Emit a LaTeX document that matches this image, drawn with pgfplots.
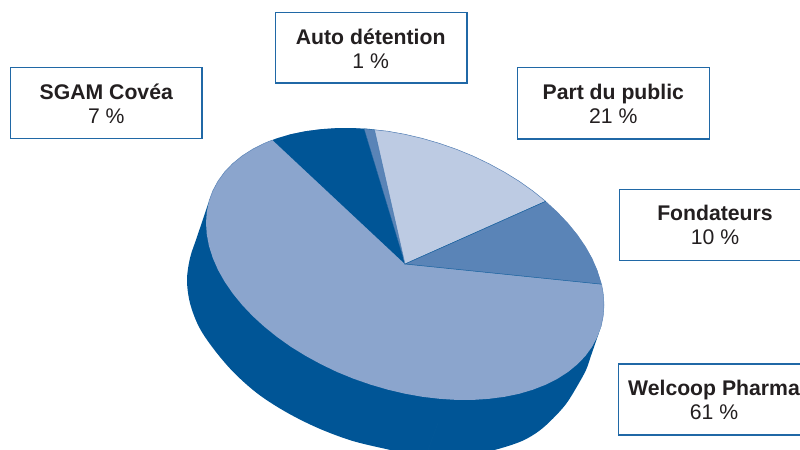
\documentclass[border=0pt]{standalone}
\usepackage{pgfplots}
\usepackage{fontspec}
\setmainfont{Liberation Sans}
\pgfplotsset{compat=1.18}
\definecolor{cdark}{HTML}{005596}
\definecolor{cseam}{HTML}{045896}
\definecolor{cmain}{HTML}{8BA5CD}
\definecolor{cmid}{HTML}{5A84B7}
\definecolor{clight}{HTML}{BDCBE3}
\definecolor{cbox}{HTML}{2068A6}
\definecolor{ctext}{HTML}{231F20}
\newcommand{\lab}[4]{%
  \node[anchor=base,inner sep=0pt,text=ctext,font=\fontsize{21.2bp}{24bp}\selectfont\bfseries] at (axis cs:#1,#2) {#3};%
  \node[anchor=base,inner sep=0pt,text=ctext,font=\fontsize{21.2bp}{24bp}\selectfont] at (axis cs:#1,#2+24) {#4};%
}
\begin{document}
\begin{tikzpicture}
\path[use as bounding box] (0,0) rectangle (800bp,450bp);
\begin{axis}[
  at={(0,0)},anchor=south west,
  width=800bp,height=450bp,scale only axis,
  xmin=0,xmax=800,ymin=0,ymax=450,y dir=reverse,
  hide axis,clip=true]
% side wall
\addplot[fill=cdark,draw=none,smooth,tension=0.55] coordinates {
(601,326.9)(596,341.3)(591,355.7)(586,370)(576.7,387)(566,404)(553,418.5)(539,431)(522,441)(497,449.3)(470,455)(445,457)(420,455.5)(403,452.5)(386,449)(351.5,440.6)(317.9,428)(286.5,412.3)(258.1,394)(233.6,372.3)(213.7,349)(199,326.9)(190,303.1)(187,280)(190,258.1)(196.3,239)(202.7,220)(209,201.1)
} -- cycle;
\addplot[draw=cseam,line width=0.4bp] coordinates {(438,423)(428,450)};
% top face, main slice
\addplot[fill=cmain,draw=none] coordinates {
(604,305)(603.2,316.1)(601,326.9)(597.2,337.2)(592,346.9)(585.4,356)(577.3,364.4)(568,372)(557.4,378.8)(545.7,384.7)(532.9,389.7)(519.1,393.8)(504.5,396.8)(489.1,398.8)(473.1,399.9)(456.5,399.9)(439.5,398.8)(422.4,396.8)(405,393.7)(387.6,389.6)(370.5,384.6)(353.5,378.7)(336.9,371.9)(320.9,364.2)(305.5,355.8)(290.9,346.8)(277.1,337)(264.3,326.7)(252.6,316)(242,304.8)(232.7,293.4)(224.6,281.6)(218,269.9)(212.8,258)(209,246.1)(206.8,234.5)(206,223)(206.8,211.9)(209,201.1)(212.8,190.8)(218,181.1)(224.6,172)(232.7,163.6)(242,156)(252.6,149.2)(264.3,143.3)(277.1,138.3)(290.9,134.2)(305.5,131.2)(320.9,129.2)(336.9,128.1)(353.5,128.1)(370.5,129.2)(387.6,131.2)(405,134.3)(422.4,138.4)(439.5,143.4)(456.5,149.3)(473.1,156.1)(489.1,163.8)(504.5,172.2)(519.1,181.2)(532.9,191)(545.7,201.3)(557.4,212)(568,223.2)(577.3,234.6)(585.4,246.4)(592,258.1)(597.2,270)(601,281.9)(603.2,293.5)
} -- cycle;
% thin rim of the main slice
\addplot[draw=cmid,line width=0.5bp] coordinates {
(209,201.1)(212.8,190.8)(218,181.1)(224.6,172)(232.7,163.6)(242,156)(252.6,149.2)(264.3,143.3)(272.5,140)};
\addplot[draw=cmid,line width=0.5bp] coordinates {
(601.6,284.2)(603.2,293.5)(604,305)(603.2,316.1)(601,326.9)};
% SGAM Covea
\addplot[fill=cdark,draw=none] coordinates {
(405,264)(272.5,140)(277.1,138.3)(290.9,134.2)(305.5,131.2)(320.9,129.2)(336.9,128.1)(353.5,128.1)(364,128.7)} -- cycle;
% Auto detention
\addplot[fill=cmid,draw=cdark,line width=0.3bp] coordinates {
(405,264)(364,128.7)(370.5,129.2)(374.5,129.8)} -- cycle;
% Part du public
\addplot[fill=clight,draw=cmid,line width=0.5bp] coordinates {
(405,264)(374.5,129.8)(387.6,131.2)(405,134.3)(422.4,138.4)(439.5,143.4)(456.5,149.3)(473.1,156.1)(489.1,163.8)(504.5,172.2)(519.1,181.2)(532.9,191)(545.7,201.3)} -- cycle;
% Fondateurs
\addplot[fill=cmid,draw=none] coordinates {
(405,264)(545.7,201.3)(557.4,212)(568,223.2)(577.3,234.6)(585.4,246.4)(592,258.1)(597.2,270)(601,281.9)(601.6,284.2)} -- cycle;
\addplot[draw=cdark!75!cmid,line width=0.5bp] coordinates {(545.7,201.3)(405,264)(601.6,284.2)};
% boxes
\addplot[draw=cbox,line width=1.3bp,fill=white] coordinates {(10.7,67.7)(202,67.7)(202,138.5)(10.7,138.5)} -- cycle;
\addplot[draw=cbox,line width=1.3bp,fill=white] coordinates {(275.7,12.7)(467,12.7)(467,83)(275.7,83)} -- cycle;
\addplot[draw=cbox,line width=1.3bp,fill=white] coordinates {(517.3,67.7)(709.3,67.7)(709.3,139)(517.3,139)} -- cycle;
\addplot[draw=cbox,line width=1.3bp,fill=white] coordinates {(619.3,189.3)(811,189.3)(811,260.3)(619.3,260.3)} -- cycle;
\addplot[draw=cbox,line width=1.3bp,fill=white] coordinates {(618.3,364)(811,364)(811,435)(618.3,435)} -- cycle;
\lab{106.3}{99}{SGAM Covéa}{7 \%}
\lab{370.7}{44}{Auto détention}{1 \%}
\lab{613.3}{99.3}{Part du public}{21 \%}
\lab{715}{220}{Fondateurs}{10 \%}
\lab{714}{395}{Welcoop Pharma}{61 \%}
\end{axis}
\end{tikzpicture}
\end{document}
